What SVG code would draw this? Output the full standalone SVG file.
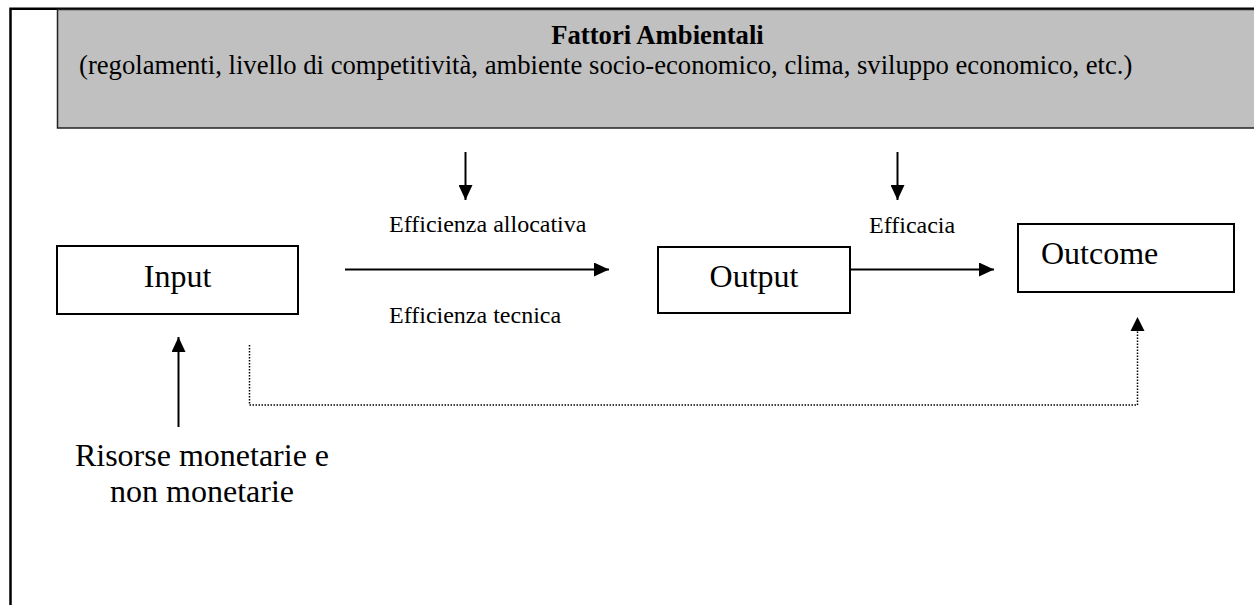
<svg xmlns="http://www.w3.org/2000/svg" width="1254" height="605" viewBox="0 0 1254 605">
<style>
.t{font-family:"Liberation Serif","Times New Roman",serif;fill:#000}
.big{font-size:32px}
.sm{font-size:24px}
.hd{font-size:26.67px}
.box{fill:#fff;stroke:#000;stroke-width:2}
.ln{fill:none;stroke:#000;stroke-width:2}
.dot{fill:none;stroke:#000;stroke-width:1.5;stroke-dasharray:1.5 1.5}
</style>
<defs>
<marker id="ah" markerWidth="15" markerHeight="14" refX="15" refY="7" orient="auto" markerUnits="userSpaceOnUse">
<path d="M0,0 L15,7 L0,14 Z" fill="#000"/>
</marker>
</defs>
<rect width="1254" height="605" fill="#fff"/>
<g id="frame">
<path d="M10.5,605 V8.75 H1254" fill="none" stroke="#000" stroke-width="2.5"/>
</g>
<g id="fattori">
<rect x="57.5" y="9.5" width="1210" height="118.5" fill="#c0c0c0" stroke="#222" stroke-width="1.5"/>
<text class="t hd" x="657.5" y="44" text-anchor="middle" font-weight="bold">Fattori Ambientali</text>
<text class="t hd" x="79" y="74">(regolamenti, livello di competitività, ambiente socio-economico, clima, sviluppo economico, etc.)</text>
</g>
<g id="input">
<rect class="box" x="57" y="246" width="241" height="68"/>
<text class="t big" x="177.5" y="287" text-anchor="middle">Input</text>
</g>
<g id="output">
<rect class="box" x="658" y="247" width="192" height="66"/>
<text class="t big" x="754" y="287" text-anchor="middle">Output</text>
</g>
<g id="outcome">
<rect class="box" x="1018" y="224" width="216" height="68"/>
<text class="t big" x="1041" y="264">Outcome</text>
</g>
<g id="labels">
<text class="t sm" x="389" y="232">Efficienza allocativa</text>
<text class="t sm" x="389" y="323">Efficienza tecnica</text>
<text class="t sm" x="869" y="233">Efficacia</text>
<text class="t big" x="202" y="466" text-anchor="middle">Risorse monetarie e</text>
<text class="t big" x="202" y="502" text-anchor="middle">non monetarie</text>
</g>
<g id="connectors">
<line class="ln" x1="465.5" y1="152" x2="465.5" y2="200" marker-end="url(#ah)"/>
<line class="ln" x1="897.5" y1="152" x2="897.5" y2="200" marker-end="url(#ah)"/>
<line class="ln" x1="345" y1="269.5" x2="609" y2="269.5" marker-end="url(#ah)"/>
<line class="ln" x1="850" y1="269.5" x2="994" y2="269.5" marker-end="url(#ah)"/>
<line class="ln" x1="178.5" y1="427" x2="178.5" y2="337" marker-end="url(#ah)"/>
<path class="dot" d="M249.5,345 V405 H1137.5 V331"/>
<path d="M1130.5,331 L1137.5,317 L1144.5,331 Z" fill="#000"/>
</g>
</svg>
